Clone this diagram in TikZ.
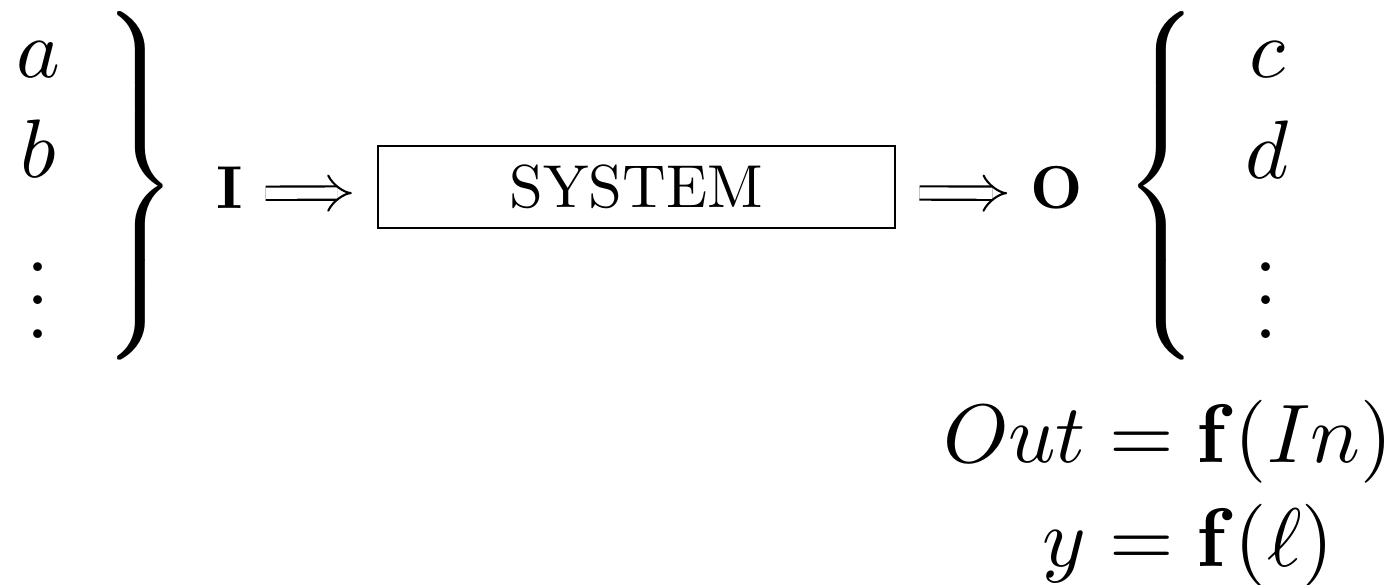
\RequirePackage{fix-cm}
\documentclass[tikz,border=0pt]{standalone}
\usepackage{amsmath}
\usetikzlibrary{arrows.meta,calc}
\font\sysrm=cmr10 at 7.3pt
\font\sysbf=cmbx10 at 7.3pt
\tikzset{
  var/.style={inner sep=0pt, anchor=base},
  small/.style={inner sep=0pt, font=\sysrm},
  imp/.style={double, double distance=1.35pt, line width=0.25pt, -{Implies}},
}
\begin{document}
\begin{tikzpicture}[x=0.1205pt, y=-0.1205pt]
\useasboundingbox (0,0) rectangle (1399,584);

\node[var] (a) at (38,77) {$a$};
\node[var] (b) at (38,177) {$b$};
\node[var] (adots) at (38,338) {$\vdots$};
\node[inner sep=0pt] (lbrace) at (140,186) {\nulldelimiterspace=0pt$\left.\vcenter{\hbox{\rule{0pt}{44.5pt}}}\right\}$};

\node[small, anchor=base] (I) at (230,208) {\sysbf I};
\node[small, draw, line width=0.3pt, minimum width=62.3pt, minimum height=9.9pt] (sys) at (636.5,187) {SYSTEM};
\node[small, anchor=base] (O) at (1057,208) {\sysbf O};

\draw[imp, shorten <=2.5pt, shorten >=3pt] ($(I.east)+(0,6)$) -- ($(sys.west)+(0,6)$);
\draw[imp, shorten <=2.8pt, shorten >=2.65pt] ($(sys.east)+(0,6)$) -- ($(O.west)+(0,6)$);

\node[inner sep=0pt] (rbrace) at (1161,186) {\nulldelimiterspace=0pt$\left\{\vcenter{\hbox{\rule{0pt}{44.5pt}}}\right.$};
\node[var] (c) at (1267,77) {$c$};
\node[var] (d) at (1267,178) {$d$};
\node[var] (cdots) at (1266,338) {$\vdots$};

\node[inner sep=0pt, anchor=north east] (eqs) at (1394,391) {\setlength{\jot}{0.5pt}$\begin{aligned} Out &= \mathbf{f}(In)\\ y &= \mathbf{f}(\ell) \end{aligned}$};
\end{tikzpicture}
\end{document}
